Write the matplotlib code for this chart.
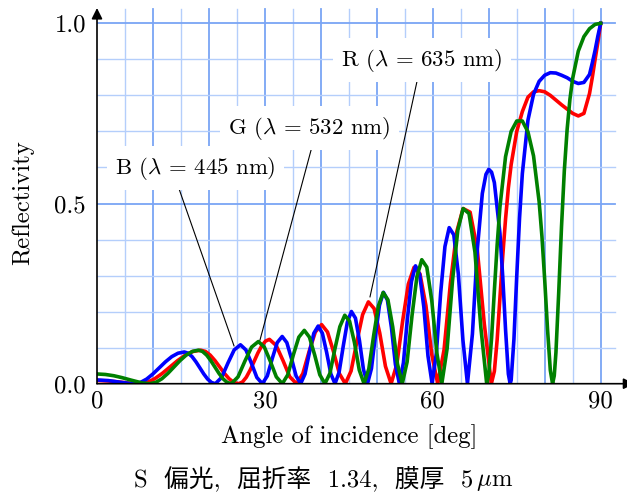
import matplotlib
matplotlib.use('Agg')
import matplotlib.pyplot as plt

plt.rcParams['font.family'] = ['cmr10', 'Noto Sans CJK JP']
plt.rcParams['mathtext.fontset'] = 'cm'
plt.rcParams['axes.formatter.use_mathtext'] = True

# reflectivity vs angle of incidence
ang_r = [0, 2, 4, 6, 7.56,
         8.93, 10.30, 11.67, 13.05, 14.42, 15.79, 17.16, 18.53,
         19.38, 20.22, 21.07, 21.92, 22.76, 23.61, 24.45, 25.30,
         25.99, 26.68, 27.37, 28.06, 28.74, 29.43, 30.12, 30.81,
         32.02, 33.24, 34.45, 35.66,
         36.78, 37.90, 39.01, 40.13,
         41.19, 42.25, 43.31, 44.37,
         45.40, 46.43, 47.46, 48.49,
         49.51, 50.52, 51.54, 52.55,
         53.58, 54.60, 55.63, 56.65,
         57.71, 58.77, 59.82, 60.88,
         62.01, 63.15, 64.28, 65.41,
         66.67, 67.94, 69.20, 70.46,
         71, 71.5, 72, 72.5, 73, 73.5, 74, 75, 76, 77, 78, 79, 80, 81, 82,
         83, 84, 85, 86, 87, 88, 88.5, 89, 89.5, 90]
ref_r = [.009, .0075, .0046, .0012, 0,
         .0035, .0136, .0287, .0465, .0643, .0794, .0895, .093,
         .0895, .0794, .0643, .0465, .0287, .0136, .0035, 0,
         .0047, .0180, .0380, .0615, .0850, .1050, .1183, .123,
         .106, .064, .019, 0,
         .0279, .0893, .1434, .164,
         .1434, .0893, .0279, 0,
         .0353, .1166, .1916, .227,
         .2087, .1406, .0483, 0,
         .0543, .1727, .2762, .323,
         .3047, .2168, .0805, 0,
         .0940, .2790, .4216, .486,
         .4759, .3734, .1661, 0,
         .0345, .122, .239, .355, .457, .543, .608, .700, .755, .795, .810, .813, .810, .800, .787,
         .774, .762, .750, .743, .750, .805, .850, .900, .948, 1.0]

ang_g = [0, 1.5, 3, 4.5, 6, 8, 9.40,
         10.49, 11.58, 12.67, 13.76, 14.85, 15.94, 17.03, 18.12,
         18.85, 19.59, 20.32, 21.06, 21.79, 22.52, 23.26, 23.99,
         25.20, 26.41, 27.62, 28.83,
         29.90, 30.97, 32.04, 33.11,
         34.09, 35.08, 36.06, 37.04,
         37.96, 38.89, 39.81, 40.73,
         41.62, 42.50, 43.39, 44.27,
         45.13, 46.00, 46.86, 47.72,
         48.57, 49.43, 50.28, 51.13,
         51.98, 52.84, 53.69, 54.54,
         55.41, 56.29, 57.16, 58.03,
         58.93, 59.82, 60.72, 61.61,
         62.56, 63.52, 64.47, 65.42,
         66.47, 67.53, 68.58, 69.63,
         70, 70.5, 71, 71.5, 72, 73, 74, 75, 76, 77, 78, 79, 79.5, 80, 80.5,
         81, 81.4, 81.7, 82, 82.5, 83, 83.5, 84, 84.5, 85, 86, 87, 88, 89, 90]
ref_g = [.027, .0256, .0221, .0167, .0103, .0023, 0,
         .0035, .0136, .0287, .0465, .0643, .0794, .0895, .093,
         .0895, .0794, .0643, .0465, .0287, .0136, .0035, 0,
         .0190, .0621, .1016, .117,
         .1016, .0621, .0190, 0,
         .0248, .0799, .1291, .148,
         .1291, .0799, .0248, 0,
         .0289, .0958, .1581, .190,
         .1735, .1143, .0380, 0,
         .0413, .1333, .2156, .253,
         .2328, .1574, .0546, 0,
         .0605, .1893, .2966, .344,
         .3234, .2302, .0858, 0,
         .0977, .2857, .4262, .486,
         .4722, .3655, .1573, 0,
         .027, .126, .258, .385, .491, .630, .700, .729, .729, .699, .632, .505, .409, .287, .151,
         .037, 0, .022, .086, .253, .436, .591, .705, .789, .848, .923, .963, .985, .997, 1.0]

ang_b = [0, 2, 4, 6, 6.64,
         7.76, 8.88, 10.00, 11.12, 12.24, 13.36, 14.48, 15.60,
         16.29, 16.99, 17.68, 18.38, 19.07, 19.76, 20.46, 21.15,
         22.27, 23.39, 24.51, 25.63,
         26.61, 27.59, 28.56, 29.54,
         30.43, 31.32, 32.20, 33.09,
         33.92, 34.74, 35.57, 36.39,
         37.17, 37.96, 38.74, 39.52,
         40.27, 41.03, 41.78, 42.53,
         43.26, 44.00, 44.73, 45.46,
         46.18, 46.90, 47.61, 48.33,
         49.04, 49.76, 50.47, 51.18,
         51.89, 52.61, 53.32, 54.03,
         54.75, 55.47, 56.19, 56.91,
         57.65, 58.40, 59.14, 59.88,
         60.64, 61.41, 62.17, 62.93,
         63.75, 64.56, 65.38, 66.19,
         67.08, 67.96, 68.85, 69.5, 70, 70.5, 71, 72, 72.5, 73, 73.5, 73.82,
         74, 74.5, 75, 75.5, 76, 77, 78, 79, 80, 81, 82, 83, 84, 85, 86, 87, 88,
         88.5, 89, 89.5, 90]
ref_b = [.0104, .0087, .0044, .0004, 0,
         .0034, .0129, .0272, .044, .0608, .0751, .0846, .088,
         .0846, .0751, .0608, .044, .0272, .0129, .0034, 0,
         .0174, .0571, .0937, .108,
         .0937, .0571, .0174, 0,
         .0216, .0701, .1140, .131,
         .1140, .0701, .0216, 0,
         .0271, .0870, .1399, .160,
         .1399, .0870, .0271, 0,
         .0319, .1043, .1706, .2003,
         .1819, .1192, .0394, 0,
         .0423, .1353, .2174, .2535,
         .2321, .1556, .0534, 0,
         .0580, .1810, .2837, .327,
         .3033, .2123, .0769, 0,
         .0853, .2529, .3806, .433,
         .4132, .3051, .1214, 0,
         .1381, .3740, .5279, .581, .595, .587, .558, .417, .296, .150, .027, 0,
         .0097, .124, .299, .4595, .583, .731, .803, .839, .856, .863, .862, .856, .849, .839, .833, .836, .858,
         .890, .925, .965, 1.0]

x_ticks = [0, 30, 60, 90]
y_ticks = [0.0, 0.5, 1.0]
y_ticklabels = ['0.0', '0.5', '1.0']

fs = 17.8      # axis text
fs_lab = 16.4  # curve labels
W, H = 627, 501

fig = plt.figure(figsize=(6.27, 5.01), dpi=100)
ax = fig.add_axes([97 / W, 117.3 / H, 530 / W, 383.7 / H])
ax.set_xlim(0, 94.7)
ax.set_ylim(0, 1.0647)
for s in ax.spines.values():
    s.set_visible(False)

# grid, drawn by hand so it stops short of the arrows
for x in range(5, 95, 5):
    major = x % 10 == 0
    ax.plot([x, x], [0, 1.04], color='#7aa5f5' if major else '#b4cefb',
            lw=1.3 if major else 1.0, zorder=0)
for i in range(1, 11):
    major = i % 5 == 0
    ax.plot([0, 92.5], [i / 10, i / 10], color='#7aa5f5' if major else '#b4cefb',
            lw=1.3 if major else 1.0, zorder=0)

ax.plot(ang_r, ref_r, color='#ff0000', lw=2.6, zorder=3)
ax.plot(ang_b, ref_b, color='#0000ff', lw=2.6, zorder=3)
ax.plot(ang_g, ref_g, color='#008000', lw=2.6, zorder=3)

# axes with arrow heads (x head runs off the right edge)
arrow = dict(arrowstyle='-|>', color='k', lw=1.2, mutation_scale=16, shrinkA=0, shrinkB=0)
ax.annotate('', xy=(0, 1.0425), xytext=(0, 0), arrowprops=arrow, annotation_clip=False, zorder=5)
ax.annotate('', xy=(96.0, 0), xytext=(0, 0), arrowprops=arrow, annotation_clip=False, zorder=5)

ax.set_xticks(x_ticks)
ax.set_xticklabels([str(v) for v in x_ticks])
ax.set_yticks(y_ticks)
ax.set_yticklabels(y_ticklabels)
ax.tick_params(length=0, labelsize=fs)
ax.tick_params(axis='x', pad=5)
ax.tick_params(axis='y', pad=8)

# leader lines and labels
ax.plot([14.29, 24.48], [0.557, 0.105], color='k', lw=0.8, zorder=4)
ax.plot([38.59, 29.12], [0.668, 0.121], color='k', lw=0.8, zorder=4)
ax.plot([57.53, 48.78], [0.864, 0.241], color='k', lw=0.8, zorder=4)
box = dict(fc='white', ec='none', pad=6)
ax.text(17.6, 0.5985, r'B ($\lambda$ = 445 nm)', fontsize=fs_lab, ha='center', va='center', bbox=box, zorder=6)
ax.text(37.9, 0.7095, r'G ($\lambda$ = 532 nm)', fontsize=fs_lab, ha='center', va='center', bbox=box, zorder=6)
ax.text(58.0, 0.898, r'R ($\lambda$ = 635 nm)', fontsize=fs_lab, ha='center', va='center', bbox=box, zorder=6)

fig.text(23 / W, 1 - 203 / H, 'Reflectivity', fontsize=fs, rotation=90, ha='center', va='center')
fig.text(349.5 / W, 1 - 437 / H, 'Angle of incidence [deg]', fontsize=fs, ha='center', va='center')

# caption: CJK part as plain text (font fallback), micro sign as mathtext
cap_y = 1 - 486 / H
t1 = fig.text(0, cap_y, 'S  偏光,  屈折率  1.34,  膜厚  5', fontsize=fs, ha='left', va='baseline')
t2 = fig.text(0, cap_y, r'$\,\mu$m', fontsize=fs, ha='left', va='baseline')
fig.canvas.draw()
w1 = t1.get_window_extent().width
w2 = t2.get_window_extent().width
x0 = 324 - (w1 + w2) / 2
t1.set_x(x0 / W)
t2.set_x((x0 + w1) / W)

fig.savefig('out.png', dpi=100)
